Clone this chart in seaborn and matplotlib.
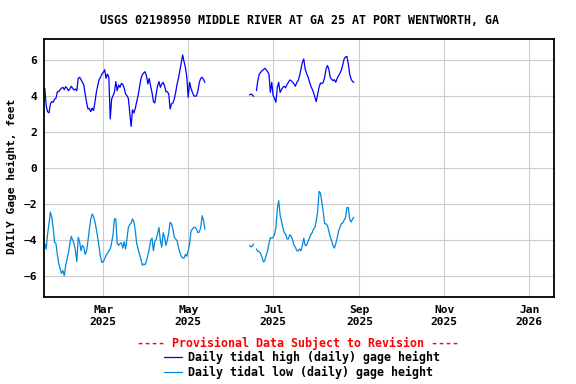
import numpy as np
import pandas as pd
import matplotlib
matplotlib.use("Agg")
import matplotlib.pyplot as plt
import matplotlib.dates as mdates
from matplotlib.lines import Line2D
import seaborn as sns

title = "USGS 02198950 MIDDLE RIVER AT GA 25 AT PORT WENTWORTH, GA"
y_label = "DAILY Gage height, feet"
notice = "---- Provisional Data Subject to Revision ----"
series_names = ["Daily tidal high (daily) gage height",
                "Daily tidal low (daily) gage height"]
series_colors = ["#0000ff", "#0088dd"]

# daily values, block 1 starts 2025-01-18, block 2 starts 2025-06-14
start_1 = "2025-01-18"
start_2 = "2025-06-14"

high_1 = [4.43, 3.46, 3.13, 3.06, 3.56, 3.69, 3.65, 3.83, 3.87, 4.24,
          4.24, 4.35, 4.44, 4.48, 4.35, 4.52, 4.43, 4.30, 4.39, 4.54,
          4.43, 4.33, 4.39, 4.30, 4.98, 5.04, 4.91, 4.76, 4.61, 4.11,
          3.65, 3.28, 3.31, 3.13, 3.33, 3.19, 3.65, 4.20, 4.57, 4.91,
          5.04, 5.22, 5.31, 5.46, 4.98, 5.22, 5.04, 2.72, 3.83, 4.02,
          4.20, 4.80, 4.30, 4.61, 4.48, 4.70, 4.65, 4.45, 4.11, 4.02,
          3.87, 3.09, 2.31, 3.24, 3.06, 3.31, 3.69, 4.02, 4.48, 4.94,
          5.17, 5.28, 5.35, 5.13, 4.67, 4.98, 4.54, 4.20, 3.69, 3.61,
          4.11, 4.57, 4.80, 4.48, 4.67, 4.76, 4.57, 4.24, 4.24, 4.11,
          3.28, 3.56, 3.61, 3.83, 4.20, 4.67, 4.98, 5.41, 5.83, 6.28,
          5.91, 5.59, 5.04, 3.93, 4.76, 4.43, 4.20, 4.02, 3.98, 4.02,
          4.30, 4.76, 4.98, 5.04, 4.91, 4.76]

high_2 = [4.06, 4.11, 4.06, 3.98, np.nan, 4.30, 4.85, 5.20, 5.31, 5.41,
          5.46, 5.54, 5.46, 5.35, 5.22, 4.20, 4.76, 4.02, 3.87, 3.65,
          4.48, 4.76, 4.20, 4.35, 4.48, 4.54, 4.46, 4.65, 4.76, 4.89,
          4.85, 4.76, 4.67, 4.54, 4.76, 4.85, 5.13, 5.50, 5.87, 6.06,
          5.50, 5.26, 5.07, 4.81, 4.57, 4.39, 4.20, 3.93, 3.69, 4.11,
          4.48, 4.72, 4.69, 4.76, 5.04, 5.50, 5.69, 5.50, 5.04, 4.94,
          4.85, 4.91, 4.76, 4.98, 5.13, 5.26, 5.44, 5.72, 6.06, 6.17,
          6.20, 5.78, 5.22, 4.94, 4.81, 4.76]

low_1 = [-4.20, -4.50, -3.67, -3.10, -2.45, -2.75, -3.30, -4.13, -4.20, -4.80,
         -5.30, -5.60, -5.85, -5.70, -5.98, -5.40, -5.05, -4.70, -4.20, -3.80,
         -4.00, -4.20, -4.60, -5.20, -3.85, -4.10, -4.60, -4.30, -4.40, -4.80,
         -4.60, -4.05, -3.40, -2.85, -2.56, -2.70, -3.00, -3.40, -3.85, -4.40,
         -4.95, -5.25, -5.20, -5.05, -4.85, -4.75, -4.60, -4.50, -4.15, -3.70,
         -2.83, -2.83, -4.20, -4.30, -4.20, -4.15, -4.45, -4.10, -4.50, -3.95,
         -3.30, -3.15, -3.05, -2.83, -3.00, -3.50, -4.20, -4.50, -4.80, -5.05,
         -5.40, -5.33, -5.38, -5.15, -4.85, -4.50, -4.04, -3.90, -4.60, -4.10,
         -3.95, -3.65, -3.30, -4.04, -4.40, -3.60, -3.85, -4.30, -4.00, -3.60,
         -3.02, -3.10, -3.40, -3.85, -3.95, -4.04, -4.40, -4.70, -4.90, -5.00,
         -5.00, -4.80, -4.90, -4.60, -4.20, -3.50, -3.40, -3.30, -3.30, -3.40,
         -3.60, -3.55, -3.30, -2.65, -2.90, -3.40]

low_2 = [-4.31, -4.38, -4.35, -4.22, np.nan, -4.50, -4.63, -4.65, -4.76, -4.95,
         -5.22, -5.15, -4.85, -4.60, -4.20, -3.87, -3.90, -3.85, -3.70, -3.30,
         -2.28, -1.81, -2.60, -2.96, -3.30, -3.60, -3.67, -3.95, -3.94, -3.70,
         -3.80, -4.00, -4.30, -4.40, -4.60, -4.60, -4.50, -4.60, -4.30, -3.90,
         -4.30, -4.30, -4.10, -3.90, -3.70, -3.60, -3.40, -3.30, -2.90, -2.40,
         -1.30, -1.40, -1.90, -2.46, -3.10, -3.10, -3.20, -3.50, -3.80, -4.05,
         -4.30, -4.45, -4.20, -3.90, -3.50, -3.30, -3.10, -3.05, -2.90, -2.75,
         -2.20, -2.20, -2.85, -3.00, -2.85, -2.74]


def to_frame(blocks):
    # split each block at missing days so the gaps stay open
    parts = []
    for k, (start, values) in enumerate(blocks):
        dates = pd.date_range(start, periods=len(values), freq="D")
        vals = pd.Series(values, dtype=float)
        piece = vals.isna().cumsum()
        part = pd.DataFrame({"date": dates, "value": vals.values,
                             "piece": [f"{k}-{p}" for p in piece]})
        parts.append(part.dropna())
    return pd.concat(parts, ignore_index=True)


high = to_frame([(start_1, high_1), (start_2, high_2)])
low = to_frame([(start_1, low_1), (start_2, low_2)])

sns.set_style("white")
plt.rcParams["font.family"] = ["DejaVu Sans Mono"]
plt.rcParams["font.weight"] = "bold"
plt.rcParams["text.color"] = "black"
plt.rcParams["axes.labelcolor"] = "black"

fig = plt.figure(figsize=(5.76, 3.84), dpi=100)
ax = fig.add_axes([44 / 576, 1 - 296.7 / 384, 510 / 576, 257.4 / 384])

for df, color in zip([high, low], series_colors):
    sns.lineplot(data=df, x="date", y="value", units="piece", estimator=None,
                 color=color, linewidth=0.9, ax=ax, legend=False)

ax.set_xlim(pd.Timestamp("2025-01-17 10:00"), pd.Timestamp("2026-01-18 18:00"))
ax.set_ylim(-7.15, 7.15)
ax.set_yticks([-6, -4, -2, 0, 2, 4, 6])
ax.xaxis.set_major_locator(mdates.MonthLocator(bymonth=[1, 3, 5, 7, 9, 11]))
ax.xaxis.set_major_formatter(mdates.DateFormatter("%b\n%Y"))

ax.grid(True, color="#cccccc", linewidth=0.8)
ax.set_axisbelow(True)
for s in ax.spines.values():
    s.set_color("black")
    s.set_linewidth(1.3)
ax.tick_params(axis="both", length=0, labelsize=8.1, colors="black")
ax.tick_params(axis="x", pad=6)
ax.tick_params(axis="y", pad=5)
for lab in ax.get_xticklabels() + ax.get_yticklabels():
    lab.set_fontweight("bold")
ax.set_xlabel("")
ax.set_ylabel("")

fig.text(299 / 576, 1 - 20 / 384, title, ha="center", va="center",
         fontsize=8.4, fontweight="bold", color="black")
fig.text(12 / 576, 1 - 176 / 384, y_label, rotation=90, ha="center",
         va="center", fontsize=8.1, fontweight="bold", color="black")
fig.text(298 / 576, 1 - 343 / 384, notice, ha="center", va="center",
         fontsize=8.4, fontweight="bold", color="#ff0000")

handles = [Line2D([], [], color=c, linewidth=0.9) for c in series_colors]
leg = fig.legend(handles, series_names, loc="upper left",
                 bbox_to_anchor=(164 / 576, 1 - 351 / 384), frameon=False,
                 borderpad=0, borderaxespad=0, handlelength=1.55,
                 handletextpad=0.5, labelspacing=0.15,
                 prop={"family": "DejaVu Sans Mono", "weight": "bold",
                       "size": 8.4})
for t in leg.get_texts():
    t.set_color("black")

fig.savefig("out.png", dpi=100, facecolor="white")
plt.close(fig)
